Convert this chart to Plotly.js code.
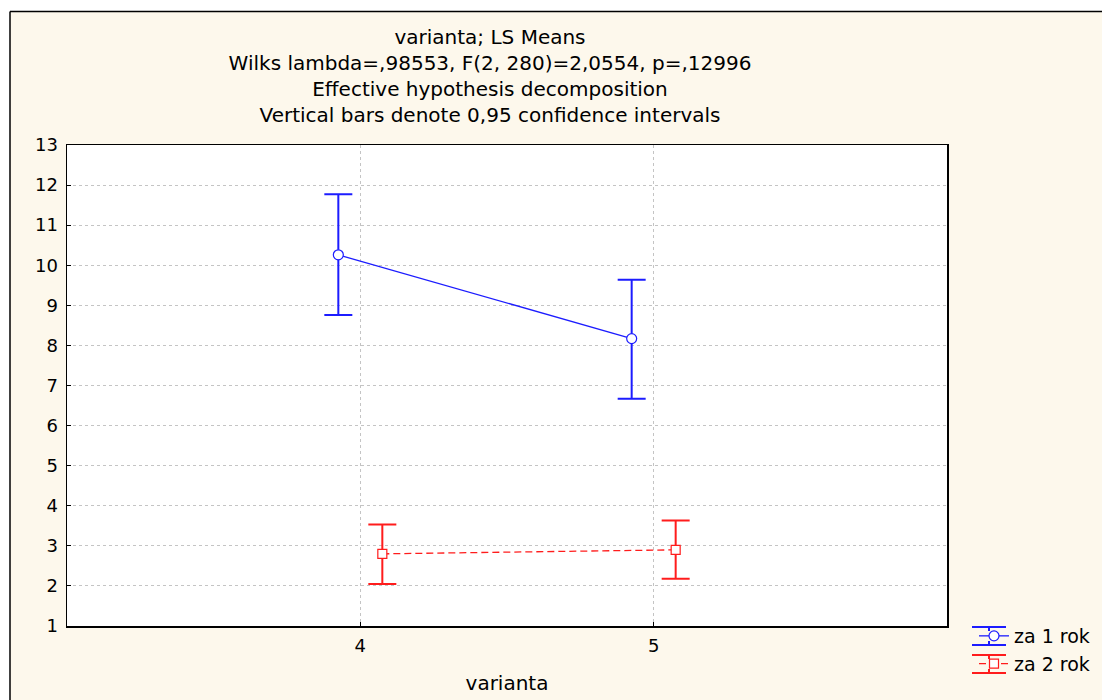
<!DOCTYPE html>
<html>
<head>
<meta charset="utf-8">
<script src="https://cdn.plot.ly/plotly-3.0.1.min.js"></script>
<style>html,body{margin:0;padding:0;background:#fff;}#chart{width:1102px;height:700px;}</style>
</head>
<body>
<div id="chart"></div>
<script>
// ---- data ----
const categories = [4, 5];
const seriesNames = ["za 1 rok", "za 2 rok"];
const mean1 = [10.26, 8.17];
const lower1 = [8.76, 6.67];
const upper1 = [11.77, 9.64];
const mean2 = [2.80, 2.90];
const lower2 = [2.05, 2.18];
const upper2 = [3.53, 3.63];
const yTicks = [1,2,3,4,5,6,7,8,9,10,11,12,13];
const titleLines = [
  "varianta; LS Means",
  "Wilks lambda=,98553, F(2, 280)=2,0554, p=,12996",
  "Effective hypothesis decomposition",
  "Vertical bars denote 0,95 confidence intervals"
];
const xTitle = "varianta";

// ---- styles ----
const FONT = "DejaVu Sans, Arial, sans-serif";
const BLUE = "#1c1cff";
const RED = "#ff1c1c";
const CREAM = "#fdf8ec";
const W = 1102, H = 700;
const M = {l: 67, r: 155, t: 145, b: 74};
const PW = W - M.l - M.r, PH = H - M.t - M.b;
const px2x = p => (p - M.l) / PW;
const px2y = p => (H - M.b - p) / PH;

function errs(mean, lo, hi) {
  return {
    type: "data", symmetric: false,
    array: hi.map((h, i) => h - mean[i]),
    arrayminus: lo.map((l, i) => mean[i] - l)
  };
}

const traces = [
  {
    type: "scatter", mode: "lines+markers", name: seriesNames[0],
    x: categories, y: mean1, offsetgroup: "1",
    line: {color: BLUE, width: 1.3},
    marker: {symbol: "circle", size: 10, color: "#ffffff", line: {color: BLUE, width: 1.2}},
    error_y: Object.assign(errs(mean1, lower1, upper1), {color: BLUE, thickness: 2, width: 14})
  },
  {
    type: "scatter", mode: "lines+markers", name: seriesNames[1],
    x: categories, y: mean2, offsetgroup: "2",
    line: {color: RED, width: 1.3, dash: "7px,4px"},
    marker: {symbol: "square", size: 9, color: "#ffffff", line: {color: RED, width: 1.2}},
    error_y: Object.assign(errs(mean2, lower2, upper2), {color: RED, thickness: 2, width: 14})
  }
];

// legend icon error-bar caps (decoration of legend symbols)
const legendIconX = 989, legendRowY = [636, 664], capHalf = 17, capOff = 9, markerR = 5;
const legendColors = [BLUE, RED];
const legendShapes = [];
legendRowY.forEach((ry, i) => {
  const c = legendColors[i];
  [-capOff, capOff].forEach(o => {
    legendShapes.push({type: "line", xref: "paper", yref: "paper", layer: "above",
      x0: px2x(legendIconX - capHalf), x1: px2x(legendIconX + capHalf),
      y0: px2y(ry + o), y1: px2y(ry + o), line: {color: c, width: 2}});
    legendShapes.push({type: "line", xref: "paper", yref: "paper", layer: "above",
      x0: px2x(legendIconX), x1: px2x(legendIconX),
      y0: px2y(ry + o), y1: px2y(ry + Math.sign(o) * markerR), line: {color: c, width: 2}});
  });
});

// outer frame: white strip outside, black border at top and left
const frameLeft = 10, frameTop = 11.5;
const frameShapes = [
  {type: "rect", xref: "paper", yref: "paper", layer: "above",
   x0: px2x(-5), x1: px2x(W + 5), y0: px2y(frameTop), y1: px2y(-5),
   fillcolor: "#ffffff", line: {width: 0}},
  {type: "rect", xref: "paper", yref: "paper", layer: "above",
   x0: px2x(-5), x1: px2x(frameLeft), y0: px2y(H + 5), y1: px2y(-5),
   fillcolor: "#ffffff", line: {width: 0}},
  {type: "line", xref: "paper", yref: "paper", layer: "above",
   x0: px2x(frameLeft), x1: px2x(W + 5), y0: px2y(frameTop), y1: px2y(frameTop),
   line: {color: "#000", width: 1.5}},
  {type: "line", xref: "paper", yref: "paper", layer: "above",
   x0: px2x(frameLeft), x1: px2x(frameLeft), y0: px2y(frameTop), y1: px2y(H + 5),
   line: {color: "#000", width: 1.5}}
];

const layout = {
  width: W, height: H,
  margin: Object.assign({autoexpand: false}, M),
  paper_bgcolor: CREAM,
  plot_bgcolor: "#ffffff",
  font: {family: FONT, size: 18, color: "#000"},
  scattermode: "group",
  scattergap: 0.7,
  title: {
    text: titleLines.join("<br>"),
    font: {family: FONT, size: 20, color: "#000"},
    x: 490 / W, xref: "container", xanchor: "center",
    y: 1 - 44 / H, yref: "container", yanchor: "top"
  },
  xaxis: {
    range: [3, 6], tickvals: categories, ticktext: categories.map(String),
    showline: true, mirror: true, linecolor: "#000", linewidth: 1.5,
    ticks: "inside", ticklen: 4, tickcolor: "#000",
    showgrid: true, gridcolor: "#c4c4c4", griddash: "dot", gridwidth: 1,
    zeroline: false, tickfont: {family: FONT, size: 18}, ticklabelstandoff: 3,
    title: {text: xTitle, font: {family: FONT, size: 20}, standoff: 21}
  },
  yaxis: {
    range: [1, 13], tickvals: yTicks,
    showline: true, mirror: true, linecolor: "#000", linewidth: 1.5,
    ticks: "inside", ticklen: 4, tickcolor: "#000",
    showgrid: true, gridcolor: "#c4c4c4", griddash: "dot", gridwidth: 1,
    zeroline: false, tickfont: {family: FONT, size: 18}, ticklabelstandoff: 4
  },
  showlegend: true,
  legend: {
    x: px2x(974), xanchor: "left", y: px2y(617), yanchor: "top",
    bgcolor: "rgba(0,0,0,0)", font: {family: FONT, size: 19},
    tracegroupgap: 0, itemwidth: 30
  },
  shapes: frameShapes.concat(legendShapes)
};

Plotly.newPlot("chart", traces, layout, {displayModeBar: false, staticPlot: true});
</script>
</body>
</html>
